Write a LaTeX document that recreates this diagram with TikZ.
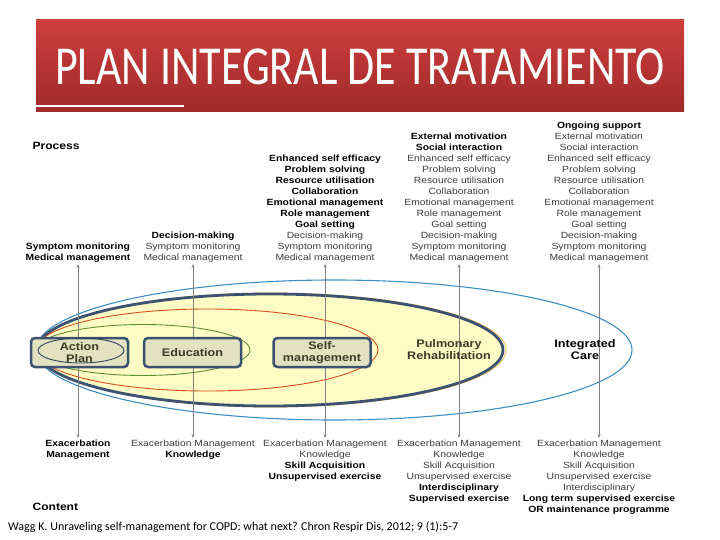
\documentclass[tikz,border=0pt]{standalone}
\usepackage{fontspec}
\setmainfont[FakeStretch=1.15]{Liberation Sans}
\newfontfamily\calibri{Carlito}
\usetikzlibrary{positioning,arrows.meta}
\definecolor{bannertop}{RGB}{206,62,60}
\definecolor{bannerbot}{RGB}{160,42,42}
\definecolor{copdnavy}{RGB}{59,82,114}
\definecolor{copdblue}{RGB}{62,142,197}
\definecolor{copdred}{RGB}{214,80,32}
\definecolor{copdgreen}{RGB}{90,144,48}
\definecolor{copdyellow}{RGB}{255,251,196}
\definecolor{copdorange}{RGB}{240,180,70}
\definecolor{boxfill}{RGB}{226,226,192}
\definecolor{boxtext}{RGB}{60,60,40}
\definecolor{txtgray}{RGB}{60,60,60}
\newcommand{\newitem}[1]{\textbf{\color{black}#1}}

\begin{document}
\begin{tikzpicture}[x=1pt,y=-1pt,>={Stealth[length=4pt,width=3pt]},
      lst/.style={align=center,inner sep=1.5pt,font=\fontsize{9}{11}\selectfont,text=txtgray},
      stage/.style={draw=copdnavy,line width=2.5pt,rounded corners=4pt,fill=boxfill,minimum width=97pt,minimum height=29pt,
        inner sep=0pt,align=center,text=boxtext,font=\fontsize{11}{12}\bfseries\selectfont},
      big/.style={align=center,font=\fontsize{11}{12}\bfseries\selectfont},
      link/.style={<->,draw=gray,line width=0.7pt}]
    \useasboundingbox (0,0) rectangle (720,540);
    % title banner
    \shade[top color=bannertop,bottom color=bannerbot] (36,20) rectangle (684,112);
    \draw[white,line width=1.5pt] (36,106) -- (184,106);
    \node[text=white,font=\calibri\fontsize{44}{44}\selectfont] (title) at (360,67) {\scalebox{1}[1.25]{PLAN INTEGRAL DE TRATAMIENTO}};
    % process
    \node[anchor=west,font=\fontsize{10.5}{12}\bfseries\selectfont] (process) at (29,146) {Process};
    \node[lst,anchor=south] (p1) at (78,264) {\newitem{Symptom monitoring}\\\newitem{Medical management}};
    \node[lst,anchor=south] (p2) at (193,264) {\newitem{Decision-making}\\Symptom monitoring\\Medical management};
    \node[lst,anchor=south] (p3) at (325,264) {\newitem{Enhanced self efficacy}\\\newitem{Problem solving}\\\newitem{Resource utilisation}\\
      \newitem{Collaboration}\\\newitem{Emotional management}\\\newitem{Role management}\\\newitem{Goal setting}\\
      Decision-making\\Symptom monitoring\\Medical management};
    \node[lst,anchor=south] (p4) at (459,264) {\newitem{External motivation}\\\newitem{Social interaction}\\Enhanced self efficacy\\
      Problem solving\\Resource utilisation\\Collaboration\\Emotional management\\Role management\\Goal setting\\
      Decision-making\\Symptom monitoring\\Medical management};
    \node[lst,anchor=south] (p5) at (599,264) {\newitem{Ongoing support}\\External motivation\\Social interaction\\Enhanced self efficacy\\
      Problem solving\\Resource utilisation\\Collaboration\\Emotional management\\Role management\\Goal setting\\
      Decision-making\\Symptom monitoring\\Medical management};
    % content
    \node[lst,anchor=north] (c1) at (78,438) {\newitem{Exacerbation}\\\newitem{Management}};
    \node[lst,anchor=north] (c2) at (193,438) {Exacerbation Management\\\newitem{Knowledge}};
    \node[lst,anchor=north] (c3) at (325,438) {Exacerbation Management\\Knowledge\\\newitem{Skill Acquisition}\\\newitem{Unsupervised exercise}};
    \node[lst,anchor=north] (c4) at (459,438) {Exacerbation Management\\Knowledge\\Skill Acquisition\\Unsupervised exercise\\
      \newitem{Interdisciplinary}\\\newitem{Supervised exercise}};
    \node[lst,anchor=north] (c5) at (599,438) {Exacerbation Management\\Knowledge\\Skill Acquisition\\Unsupervised exercise\\
      Interdisciplinary\\\newitem{Long term supervised exercise}\\\newitem{OR maintenance programme}};
    \node[anchor=west,font=\fontsize{10.5}{12}\bfseries\selectfont] (content) at (29,507) {Content};
    % nested ellipses
    \draw[copdblue,line width=1.1pt] (334,350) ellipse [x radius=298,y radius=70];
    \draw[copdorange,line width=0.8pt] (271,350) ellipse [x radius=235,y radius=57];
    \draw[copdnavy,line width=2.8pt,fill=copdyellow] (270,350) ellipse [x radius=233,y radius=56];
    \draw[copdred,line width=0.9pt] (207,350) ellipse [x radius=171,y radius=41];
    \draw[copdgreen,line width=0.9pt] (143,350) ellipse [x radius=107,y radius=25.5];
    \foreach \i in {1,...,5}
      \draw[link] (p\i) -- (c\i);
    \node[stage] (plan) at (79.5,352.5) {Action\\Plan};
    \node[stage] (edu) at (192.5,352.5) {Education};
    \node[stage] (self) at (322,352.5) {Self-\\management};
    \draw[copdnavy!80!black,line width=0.9pt] (81,350.5) ellipse [x radius=43,y radius=12.5];
    \node[big,text=boxtext] (pulm) at (449,350) {Pulmonary\\Rehabilitation};
    \node[big] (integ) at (585,350) {Integrated\\Care};
    \node[anchor=west,inner sep=0pt,font=\calibri\fontsize{12}{14}\selectfont] (ref) at (8,527) {Wagg K. Unraveling self-management for COPD: what next? Chron Respir Dis, 2012; 9 (1):5-7};
  \end{tikzpicture}
\end{document}
